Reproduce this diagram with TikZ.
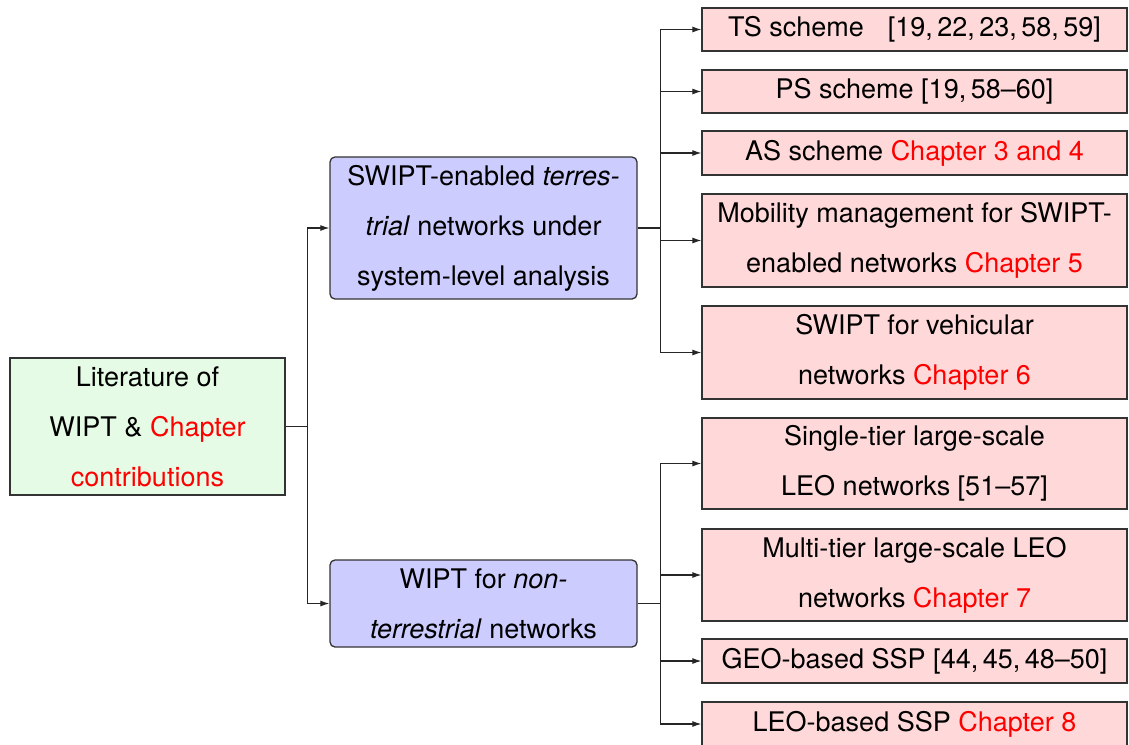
\documentclass[tikz,border=0pt]{standalone}
\usepackage{fontspec}
\setmainfont{TeX Gyre Heros}
\usetikzlibrary{arrows.meta}
\definecolor{rootfill}{HTML}{E5FBE5}
\definecolor{midfill}{HTML}{CCCCFF}
\definecolor{leaffill}{HTML}{FFD9D9}
\definecolor{boxline}{HTML}{333333}
\begin{document}
\begin{tikzpicture}[x=1pt,y=-1pt,
  box/.style={font=\fontsize{27}{50}\selectfont, align=center, inner sep=0pt,
    draw=boxline, line width=1.3pt},
  rootbox/.style={box, fill=rootfill, minimum width=275pt, minimum height=137pt},
  midbox/.style={box, fill=midfill, rounded corners=5pt, minimum width=307pt, minimum height=142pt},
  leafbox/.style={box, fill=leaffill, minimum width=425pt, minimum height=43pt},
  link/.style={line width=1.1pt, draw=black!85},
  tolink/.style={link, -{Latex[length=9pt,width=6pt]}}]
\useasboundingbox (0,0) rectangle (1129,744);

% root and second level
\node[rootbox] (root) at (147.5,426.5)
  {Literature of\\ WIPT \& \textcolor{red}{Chapter}\\ \textcolor{red}{contributions}};
\node[midbox] (terr) at (483.5,228)
  {SWIPT-enabled \textit{terres-}\\ \textit{trial} networks under\\ system-level analysis};
\node[midbox, minimum height=87pt] (nonterr) at (483.5,603.5)
  {WIPT for \textit{non-}\\ \textit{terrestrial} networks};

% terrestrial leaves
\node[leafbox] (ts) at (914.5,29.5) {TS scheme\hspace{24pt}[19,\,22,\,23,\,58,\,59]};
\node[leafbox] (ps) at (914.5,91.5) {PS scheme [19,\,58--60]};
\node[leafbox, minimum height=44pt] (as) at (914.5,153) {AS scheme \textcolor{red}{Chapter 3 and 4}};
\node[leafbox, minimum height=93pt] (mob) at (914.5,240.5)
  {Mobility management for SWIPT-\\ enabled networks \textcolor{red}{Chapter 5}};
\node[leafbox, minimum height=93pt] (veh) at (914.5,352.5)
  {SWIPT for vehicular\\ networks \textcolor{red}{Chapter 6}};

% non-terrestrial leaves
\node[leafbox, minimum height=91pt] (single) at (914.5,463.5)
  {Single-tier large-scale\\ LEO networks [51--57]};
\node[leafbox, minimum height=92pt] (multi) at (914.5,575)
  {Multi-tier large-scale LEO\\ networks \textcolor{red}{Chapter 7}};
\node[leafbox, minimum height=44pt] (geo) at (914.5,661) {GEO-based SSP [44,\,45,\,48--50]};
\node[leafbox, minimum height=44pt] (leo) at (914.5,724) {LEO-based SSP \textcolor{red}{Chapter 8}};

% connectors
\draw[link] (root.east) -- ++(22,0) coordinate (rj);
\draw[tolink] (rj) |- (terr.west);
\draw[tolink] (rj) |- (nonterr.west);

\draw[link] (terr.east) -- ++(23,0) coordinate (tj);
\foreach \n in {ts,ps,as,mob,veh} \draw[tolink] (tj) |- (\n.west);

\draw[link] (nonterr.east) -- ++(23,0) coordinate (nj);
\foreach \n in {single,multi,geo,leo} \draw[tolink] (nj) |- (\n.west);
\end{tikzpicture}
\end{document}
